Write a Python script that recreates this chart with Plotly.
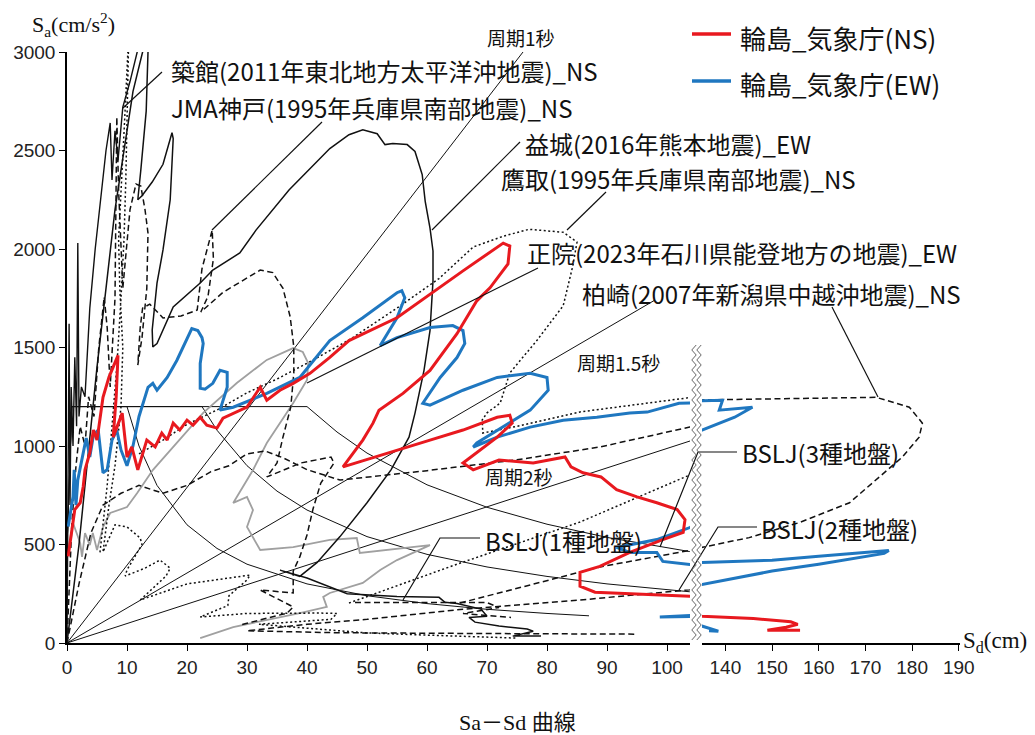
import plotly.graph_objects as go

# ---------------- data (Sd [cm], Sa [cm/s2]) ----------------
red_ns = [(0.2,440),(1.3,677),(2.2,712),(2.7,793),(3,879),(3.8,965),(4.4,1081),(5,1030),(6,1247),(7,1350),
          (8.5,1460),(8.2,1250),(7.7,1045),(9.2,1167),(10,944),(10.8,995),(11.8,879),(13.3,1030),(14.7,995),
          (15.8,1065),(16.7,1030),(17.7,1116),(18.8,1081),(20,1131),(21,1106),(22.2,1146),(23.3,1106),(25,1091),
          (26,1141),(30,1197),(32.2,1298),(33.3,1232),(35.5,1283),(37.7,1318),(40.5,1369),(43.8,1450),(47,1535),
          (55,1651),(66,1889),(72.7,2030),(73.8,2015),(73.5,1924),(70.5,1803),(68.3,1737),(65,1570),(60.5,1384),
          (56,1267),(52,1182),(51,1116),(49.3,1030),(46,894),(55,980),(60.5,1030),(66,1081),(71.7,1146),
          (73.8,1156),(74.2,1116),(71.7,1045),(68.3,965),(66,914),(67.7,879),(72,929),(77.7,914),(83,944),
          (84,894),(86,864),(89,843),(91.6,778),(95,742),(98.3,712),(101.7,677),(103,626),(102.7,561),(99.3,525),
          (93.8,460),(88.8,389),(85.5,359),(85.5,288),(88,258),(103.8,237),(135,136),(146,124),(154,108),
          (155.5,95),(153,80),(149,65),(156,65)]

blue_ew = [(0.2,591),(1,742),(1.2,879),(1.5,700),(1.8,828),(2.7,965),(3.2,1040),(3.8,944),(4.4,1055),(5.2,1081),
           (6,864),(6.7,880),(7.5,1030),(8.3,1081),(9,980),(10,900),(11,1000),(12,1150),(13.5,1298),(14.3,1318),
           (15,1283),(16.7,1348),(18.3,1434),(20.8,1596),(21.8,1586),(22.5,1550),(22.7,1520),(22.2,1419),
           (22.2,1293),(23,1288),(24.3,1318),(25.5,1384),(26.7,1374),(26.7,1298),(25.5,1182),(27.7,1197),
           (33.3,1267),(38.8,1348),(43.8,1535),(49.3,1651),(55,1778),(55.8,1788),(56.3,1752),(55,1651),
           (52.2,1510),(55,1550),(60.5,1601),(64.3,1611),(66,1586),(66.3,1520),(65,1449),(62.2,1348),(59.3,1217),
           (60.5,1207),(66,1283),(71.7,1348),(77.2,1369),(80,1348),(80.2,1283),(77.2,1182),(71.7,1081),
           (68.3,1015),(67.7,995),(71.7,1045),(77.2,1096),(82.7,1131),(88.3,1146),(93.8,1167),(96.7,1172),
           (102,1217),(135,1232),(139.4,1232),(138.7,1182),(145.8,1197),(142,1146),(135,1081),(103.8,586),
           (98.3,525),(91.6,485),(93.8,460),(98.3,460),(99.3,414),(103.8,399),(135,409),(150,420),(160,440),
           (175,470),(174,455),(160,400),(150,365),(135,298),(104,135),(98.8,132),(103.8,140),(135,86),
           (138.5,60),(136.5,62)]

tsukidate_solid = [(0,0),(0.2,900),(0.35,1620),(0.5,700),(0.7,1300),(1.0,1000),(1.3,1450),(1.6,1100),(1.8,2030),
                   (2.0,1150),(2.4,1300),(3.0,1250),(3.8,1700),(4.7,2000),(5.6,2250),(6.5,2500),(7.2,2640),
                   (7.5,2350),(8.0,2600),(8.5,2450),(9.3,2720),(10.5,2850),(11.7,3000),(12.2,3100)]

mashiki_solid = [(0,0),(2,500),(5,1400),(8,2200),(11,2800),(13.4,3100),(13.6,3100),(13.2,2700),(12.3,2400),
                 (11.8,2250),(12.5,2270),(14.2,2340),(16,2430),(17.5,2590),(17.7,2560),(17.2,2250),(16,1995),
                 (15,1827),(14.2,1589),(14.3,1503),(15,1520),(17.7,1706),(22.2,1827),(24.3,1893),(28.8,1980),
                 (31.5,2096),(37,2300),(43.8,2510),(47,2580),(49.3,2605),(51.7,2585),(53,2530),(54.3,2535),
                 (56.7,2530),(58,2495),(59.2,2378),(59.7,2242),(60.5,2106),(61,1990),(61,1838),(60.5,1586),
                 (59.5,1384),(58,1167),(57,1045),(54,879),(50,712),(45.5,540),(41.7,409),(38.8,338),(35.5,370),
                 (40,330),(46.7,250),(55,236),(62,232),(63,207),(65,200),(69,172),(70,136),(67,130),(68,106),
                 (72,86),(76.7,71),(77.7,60),(74.3,35),(79,35)]

kobe_dash = [(0,0),(0.8,600),(1.5,900),(2.2,1100),(3.0,1000),(3.6,1250),(4.5,1150),(5.3,1500),(6.2,1756),
             (6.7,1600),(7.2,1300),(7.6,1500),(8.0,1750),(8.3,2670),(8.6,2300),(9.3,1800),(10.5,2200),(11.5,2330),
             (12.3,2320),(13.0,2200),(13.5,2081),(13.3,1800),(12.5,1550),(11.8,1411),(12.2,1600),(12.6,1700),
             (13.8,1720),(16.0,1650),(19.0,1660),(21.7,1690),(22.5,1900),(24.2,2096),(24.4,1950),(23.5,1760),
             (22.3,1680),(26.0,1780),(32.2,1893),(34.3,1880),(36.0,1800),(37.2,1655),(37.8,1503),(37.8,1371),
             (37.3,1198),(36.0,1046),(35.0,914),(33.3,843),(39.0,914),(44.0,944),(44.5,914),(44.0,890),
             (42.3,812),(41.0,680),(40.0,548),(38.8,437),(37.7,365),(37.7,254),(32.2,269),(37.7,183),
             (36.7,152),(28.8,91)]

takatori_dot = [(12,960),(16,1030),(20,1110),(25,1183),(30,1270),(35,1340),(40,1420),(47,1538),(55,1700),
                (62,1850),(67.7,2010),(72.7,2065),(77,2100),(82.7,2085),(85,2035),(84.3,1914),(82.7,1712),
                (78.3,1535),(73.8,1371),(72.2,1218),(70,1168),(69.2,1132),(69.3,1066),(75,1100),(85.5,1173),
                (103.8,1244),(115,1290)]

tsukidate_dot = [(5.5,460),(6.0,600),(6.7,800),(7.5,1100),(8.3,1400),(9.0,1750),(9.5,2050),(9.8,2350),
                 (10.0,2700),(10.3,3100),(9.6,2650),(9.0,2300),(8.6,2050),(8.8,1800),(9.3,1500),(9.0,1200),
                 (8.0,900),(7.0,700),(6.0,462),(8.0,600),(10.0,589),(12.2,533),(12.5,500),(10.0,371),(9.7,340),
                 (13.0,380),(15.5,421),(17.2,380),(16.5,340),(12.2,218),(20.0,300),(30.5,345),(30.0,320),
                 (27.0,240),(26.8,190),(22.2,132),(30.0,150),(42.0,152),(45.0,150),(44.0,120),(32.0,95),
                 (38.0,80),(50.0,51),(60.0,40),(75.0,25)]

long_dot = [(47,203),(65,400),(85.5,614),(103.8,853),(115,980)]

kashiwazaki_dash = [(0,0),(2,300),(4,560),(6,700),(9,760),(12,800),(16,760),(20,800),(24,870),(27,900),
                    (30,960),(33,975),(36,940),(40,880),(45.5,827),(60,875),(75,930),(88.8,995),(103.8,1096),
                    (135,1234),(172.3,1247),(179.4,1197),(182.2,1116),(181.5,1045),(177.9,944),(173,843),
                    (166.6,712),(155.8,611),(145.1,535),(134.9,485),(103.8,270),(85.5,218),(65.5,170),
                    (50,120),(40,95),(30,62),(45,52),(70,48),(95,45)]

extra_dash = [(65.5,203),(88.8,386),(103.8,470)]
bottom_dash = [(48,205),(70,205),(72,180),(66,150),(74,130)]

gray_curve = [(0.2,472),(1,609),(2.2,508),(2.5,437),(3,558),(3.8,497),(4.3,558),(5,472),(6,589),(7.2,660),
              (10,690),(11.7,761),(14.3,878),(18.3,1015),(22.7,1168),(28.3,1320),(33.3,1437),(37.7,1497),
              (39.3,1477),(40.2,1421),(40,1335),(37.7,1218),(33.3,1015),(31,878),(29.5,800),(27.7,711),
              (30,741),(31,675),(30,589),(32.2,472),(37.7,487),(43.8,523),(48.3,533),(48.8,457),(60.5,497),
              (55,421),(52.2,371),(49.3,305),(43.8,254),(42.7,234),(43.3,183),(38.8,152),(27.7,81),(22.2,25)]

bslj_1 = [(0,480),(0.8,1200),(10,1200),(12,1000),(15,800),(20,600),(25,480),(30,400),(40,300),(50,240),
          (60,200),(70,171),(80,150),(87,138)]
bslj_2 = [(0,480),(0.8,1200),(22.5,1200),(25,1080),(30,900),(35,771),(40,675),(50,540),(60,450),(70,386),
          (80,338),(90,300),(103.8,260)]
bslj_3 = [(0,480),(0.8,1200),(40,1200),(45,1071),(50,964),(60,803),(70,689),(80,603),(90,536),(103.8,464)]

period_1s = [(0,0),(76,3000)]
period_15s = [(0,0),(98,1741)]
period_2s = [(0,0),(104,1027)]

x_ticks_left = [0,10,20,30,40,50,60,70,80,90,100]
x_ticks_right = [140,150,160,170,180,190]
y_ticks = [0,500,1000,1500,2000,2500,3000]

# ---------------- layout geometry ----------------
W, H = 1035, 735
ML, MR, MT, MB = 67, 75, 52, 92
PW, PH = W - ML - MR, H - MT - MB

def pxx(x):
    return (x - ML) / PW

def pxy(y):
    return (H - MB - y) / PH

fig = go.Figure()

def add_curve(pts, color, width, dash="solid"):
    sd = [p[0] for p in pts]
    sa = [p[1] for p in pts]
    for xa in ("x", "x2"):
        fig.add_trace(go.Scatter(x=sd, y=sa, mode="lines", xaxis=xa, yaxis="y",
                                 line=dict(color=color, width=width, dash=dash),
                                 hoverinfo="skip", showlegend=False))

K = "#111111"
DOT = "2px,2.5px"
DASH = "6px,3.5px"
for c in (period_1s, period_15s, period_2s, bslj_1, bslj_2, bslj_3):
    add_curve(c, K, 1.0)
add_curve(gray_curve, "#a0a0a0", 1.8)
add_curve(tsukidate_solid, K, 1.4)
add_curve(mashiki_solid, K, 1.5)
add_curve(kobe_dash, K, 1.5, DASH)
add_curve(kashiwazaki_dash, K, 1.5, DASH)
add_curve(extra_dash, K, 1.5, DASH)
add_curve(bottom_dash, K, 1.5, DASH)
add_curve(takatori_dot, K, 1.5, DOT)
add_curve(tsukidate_dot, K, 1.5, DOT)
add_curve(long_dot, K, 1.5, DOT)
add_curve(blue_ew, "#1f77c0", 3.0)
add_curve(red_ns, "#e8191f", 3.0)

axis_common = dict(showgrid=False, zeroline=False, showline=True, linecolor="black", linewidth=1.5,
                   ticks="outside", ticklen=6, tickcolor="black", tickwidth=1.2, automargin=False,
                   tickfont=dict(family="Liberation Sans, Arial", size=19, color="#222"))

fig.update_layout(
    width=W, height=H, margin=dict(l=ML, r=MR, t=MT, b=MB),
    paper_bgcolor="white", plot_bgcolor="white", showlegend=False,
    xaxis=dict(domain=[0, pxx(690)], range=[0, (690 - ML) / 6.0], tickvals=x_ticks_left, anchor="y", **axis_common),
    xaxis2=dict(domain=[pxx(702), 1], range=[135.0, 190.25], tickvals=x_ticks_right, anchor="y", **axis_common),
    yaxis=dict(domain=[0, 1], range=[0, 3000], tickvals=y_ticks, anchor="x", **axis_common),
)

# ---------------- annotations ----------------
JP = "Noto Sans CJK JP, Noto Sans, sans-serif"
SERIF = "Liberation Serif, Noto Sans CJK JP, serif"
labels = [
    ("築館(2011年東北地方太平洋沖地震)_NS", 169, 71, 24),
    ("JMA神戸(1995年兵庫県南部地震)_NS", 169, 107, 24),
    ("益城(2016年熊本地震)_EW", 523, 143, 24),
    ("鷹取(1995年兵庫県南部地震)_NS", 499, 178, 24),
    ("正院(2023年石川県能登地方の地震)_EW", 525, 252, 24),
    ("柏崎(2007年新潟県中越沖地震)_NS", 580, 293, 24),
    ("BSLJ(3種地盤)", 740, 452, 24),
    ("BSLJ(2種地盤)", 759, 528, 24),
    ("BSLJ(1種地盤)", 483, 540, 24),
    ("周期1秒", 485, 37, 19),
    ("周期1.5秒", 575, 362, 19),
    ("周期2秒", 483, 476, 19),
    ("輪島_気象庁(NS)", 738, 37, 26),
    ("輪島_気象庁(EW)", 738, 83, 26),
]
ann = []
for text, x, y, s in labels:
    ann.append(dict(text=text, x=pxx(x), y=pxy(y), xref="paper", yref="paper", xanchor="left", yanchor="middle",
                    showarrow=False, font=dict(family=JP, size=s, color="#111")))
ann.append(dict(text="S<sub>a</sub>(cm/s<sup>2</sup>)", x=pxx(30), y=pxy(25), xref="paper", yref="paper",
                xanchor="left", yanchor="middle", showarrow=False, font=dict(family=SERIF, size=22, color="#111")))
ann.append(dict(text="S<sub>d</sub>(cm)", x=pxx(961), y=pxy(642), xref="paper", yref="paper",
                xanchor="left", yanchor="middle", showarrow=False, font=dict(family=SERIF, size=23, color="#111")))
ann.append(dict(text="Sa－Sd 曲線", x=pxx(517), y=pxy(722), xref="paper", yref="paper",
                xanchor="center", yanchor="middle", showarrow=False, font=dict(family=SERIF, size=22, color="#111")))
fig.update_layout(annotations=ann)

# ---------------- leader lines, legend samples, axis break marks ----------------
shapes = []
leaders = [
    [(162, 72), (123, 108)],
    [(322, 122), (212, 230)],
    [(520, 142), (432, 230)],
    [(606, 192), (567, 230)],
    [(538, 268), (307, 383)],
    [(832, 307), (878, 397)],
    [(737, 452), (698, 452), (660, 547)],
    [(757, 527), (718, 527), (679, 590)],
    [(480, 538), (440, 538), (403, 600)],
]
for pts in leaders:
    path = "M " + " L ".join(f"{pxx(a):.5f},{pxy(b):.5f}" for a, b in pts)
    shapes.append(dict(type="path", path=path, xref="paper", yref="paper", line=dict(color="#111", width=1.2)))

shapes.append(dict(type="line", xref="paper", yref="paper", x0=pxx(692), x1=pxx(731), y0=pxy(34), y1=pxy(34),
                   line=dict(color="#e8191f", width=3.5)))
shapes.append(dict(type="line", xref="paper", yref="paper", x0=pxx(692), x1=pxx(731), y0=pxy(81), y1=pxy(81),
                   line=dict(color="#1f77c0", width=3.5)))

for xc in (694.0, 699.0):
    pts = []
    yy = 345.0
    k = 0
    while yy <= 640:
        pts.append((xc + (2.2 if k % 2 == 0 else -2.2), yy))
        yy += 5.0
        k += 1
    path = "M " + " L ".join(f"{pxx(a):.5f},{pxy(b):.5f}" for a, b in pts)
    shapes.append(dict(type="path", path=path, xref="paper", yref="paper", line=dict(color="#666", width=1.0)))

fig.update_layout(shapes=shapes)
fig.write_html("out.html", config={"displayModeBar": False},
               post_script="document.body.style.margin='0px';document.body.style.overflow='hidden';")
